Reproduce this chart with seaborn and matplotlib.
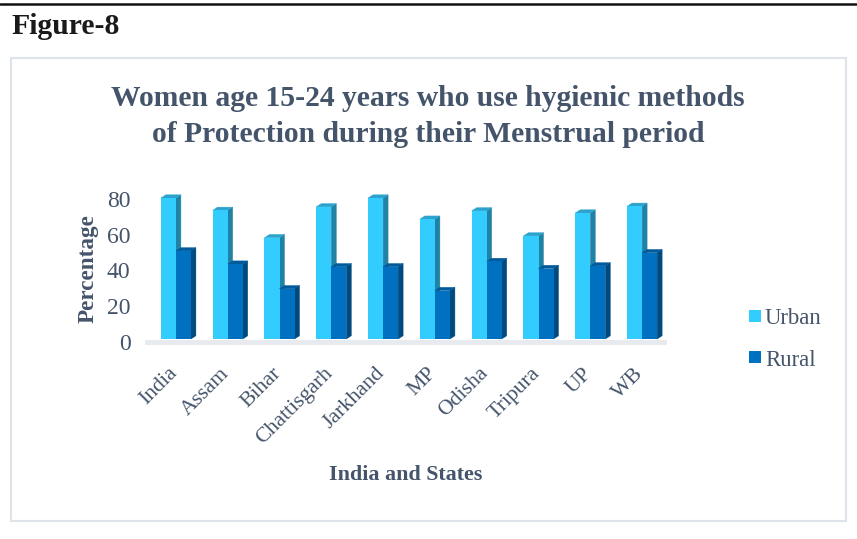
import matplotlib
matplotlib.use("Agg")
import matplotlib.pyplot as plt
from matplotlib.patches import Polygon, Rectangle
from matplotlib.transforms import ScaledTranslation
import pandas as pd
import seaborn as sns

regions = ["India", "Assam", "Bihar", "Chattisgarh", "Jarkhand", "MP", "Odisha", "Tripura", "UP", "WB"]
urban = [80, 73, 57.5, 75, 80, 68, 72.7, 58.5, 71.5, 75.3]
rural = [50, 42.5, 28.5, 41, 41, 27.5, 44, 40, 41.5, 49]
yticks = [0, 20, 40, 60, 80]

URBAN_COLOR = "#33ccff"
RURAL_COLOR = "#0070c0"
TEXT_COLOR = "#44546a"
SERIF = "Liberation Serif"
W, H = 857, 539

sns.set_theme(style="white")
plt.rcParams["font.family"] = [SERIF, "DejaVu Sans"]

fig = plt.figure(figsize=(W / 100, H / 100), dpi=100, facecolor="white")


def px_axes(left, top, right, bottom):
    return fig.add_axes([left / W, 1 - bottom / H, (right - left) / W, (bottom - top) / H])


# Page furniture: rule above the caption and the chart frame
fig.add_artist(plt.Line2D([0, 1], [1 - 4 / H] * 2, color="#111111", lw=1.8))
fig.add_artist(Rectangle((11 / W, 1 - 521 / H), 835 / W, 463 / H, transform=fig.transFigure,
                         facecolor="white", edgecolor="#e0e4ea", lw=1.6, zorder=-2))
fig.text(11.5 / W, 1 - 26 / H, "Figure-8", fontsize=21.4, fontweight="bold", color="#1a1a1a",
         va="center", ha="left")
fig.text(428 / W, 1 - 98 / H, "Women age 15-24 years who use hygienic methods",
         fontsize=21.3, fontweight="bold", color=TEXT_COLOR, ha="center", va="center")
fig.text(428 / W, 1 - 135 / H, "of Protection during their Menstrual period",
         fontsize=21.3, fontweight="bold", color=TEXT_COLOR, ha="center", va="center")

# Pale floor under the bars
fig.add_artist(Rectangle((145 / W, 1 - 345 / H), 522 / W, 5 / H, transform=fig.transFigure,
                         facecolor="#e7eaee", edgecolor="none", zorder=-1))

ax = px_axes(150, 180, 668, 339)
ppu = (339 - 198) / 80
ax.patch.set_alpha(0)

frame = pd.DataFrame({
    "region": regions * 2,
    "value": urban + rural,
    "series": ["Urban"] * len(regions) + ["Rural"] * len(regions),
})
sns.barplot(data=frame, x="region", y="value", hue="series", order=regions,
            hue_order=["Urban", "Rural"], palette=[URBAN_COLOR, RURAL_COLOR],
            width=0.58, dodge=True, saturation=1, ax=ax, legend=False,
            edgecolor="none", linewidth=0)

ax.set_xlim(-0.5, len(regions) - 0.5)
ax.set_ylim(0, 159 / ppu)

# Extruded sides and tops give each bar its block look
dx = 5 / 51.8
dy = 3.2 / ppu
shades = {URBAN_COLOR: ("#2083a5", "#2ca3cc"), RURAL_COLOR: ("#004a80", "#005a9c")}
for bars, color in zip(ax.containers, [URBAN_COLOR, RURAL_COLOR]):
    side, top = shades[color]
    z = 2 if color == URBAN_COLOR else 4
    for bar in bars:
        x0, w, h = bar.get_x(), bar.get_width(), bar.get_height()
        x1 = x0 + w
        ax.add_patch(Polygon([(x1, 0), (x1 + dx, dy), (x1 + dx, h + dy), (x1, h)],
                             facecolor=side, edgecolor=side, lw=0.3, zorder=z, clip_on=False))
        ax.add_patch(Polygon([(x0, h), (x0 + dx, h + dy), (x1 + dx, h + dy), (x1, h)],
                             facecolor=top, edgecolor=top, lw=0.3, zorder=z, clip_on=False))
        bar.set_zorder(z + 1)

for s in ax.spines.values():
    s.set_visible(False)

ax.set_yticks([])
ax.set_xlabel("")
ax.set_ylabel("")

# Category labels, slanted and anchored under each group
ax.set_xticks(range(len(regions)))
ax.set_xticklabels(regions, rotation=45, ha="right", rotation_mode="anchor",
                   fontsize=15.7, color=TEXT_COLOR)
ax.tick_params(axis="x", length=0, pad=18)
shift = ScaledTranslation(-8 / 100, 0, fig.dpi_scale_trans)
for label in ax.get_xticklabels():
    label.set_transform(label.get_transform() + shift)

# Value axis labels sit slightly below the bar scale, on their own pixel scale
label_ax = px_axes(150, 180, 668, 342)
label_ax.patch.set_alpha(0)
label_ax.set_ylim(0, 162 / ((342 - 199) / 80))
label_ax.set_xticks([])
label_ax.set_yticks(yticks)
label_ax.set_yticklabels([str(v) for v in yticks], fontsize=17, color=TEXT_COLOR)
label_ax.tick_params(axis="y", length=0, pad=14)
for s in label_ax.spines.values():
    s.set_visible(False)

fig.text(88 / W, 1 - 269 / H, "Percentage", rotation=90, fontsize=16.7, fontweight="bold",
         color=TEXT_COLOR, ha="center", va="center")
fig.text(406 / W, 1 - 475 / H, "India and States", fontsize=15.8, fontweight="bold",
         color=TEXT_COLOR, ha="center", va="center")

# Legend keys and names
for name, color, y in [("Urban", URBAN_COLOR, 316), ("Rural", RURAL_COLOR, 357)]:
    fig.add_artist(Rectangle((749 / W, 1 - (y + 6) / H), 12 / W, 12 / H, transform=fig.transFigure,
                             facecolor=color, edgecolor="none"))
    fig.text(765 / W, 1 - (y + 3) / H, name, fontsize=16.4, color=TEXT_COLOR, ha="left", va="center")

fig.savefig("out.png", dpi=100, facecolor="white")
